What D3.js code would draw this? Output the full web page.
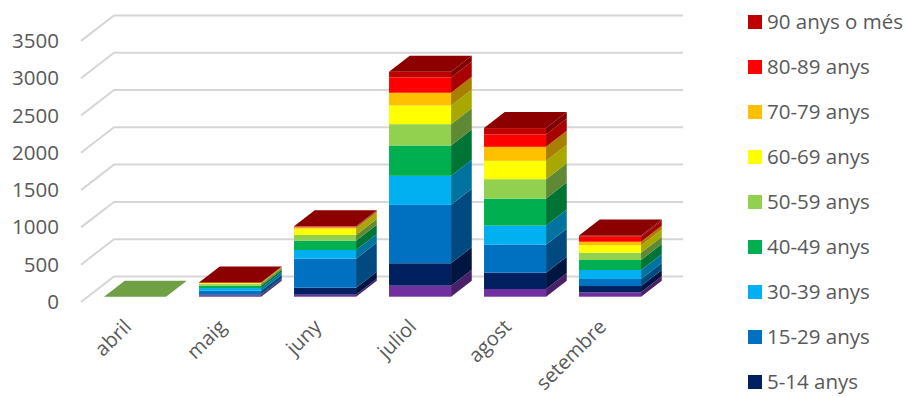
<!DOCTYPE html>
<html>
<head>
<meta charset="utf-8">
<script src="https://cdn.jsdelivr.net/npm/d3@7"></script>
<style>
  html, body { margin: 0; padding: 0; background: #fff; }
  text { font-family: "Open Sans", sans-serif; fill: #595959; }
</style>
</head>
<body>
<svg id="chart" width="908" height="396"></svg>
<script>
// Monthly cases by age group, stacked bottom to top
const months = ["abril", "maig", "juny", "juliol", "agost", "setembre"];
const ageGroups = ["0-4 anys", "5-14 anys", "15-29 anys", "30-39 anys", "40-49 anys",
                   "50-59 anys", "60-69 anys", "70-79 anys", "80-89 anys", "90 anys o més"];
const ageColors = ["#7030a0", "#002060", "#0070c0", "#00b0f0", "#00b050",
                   "#92d050", "#ffff00", "#ffc000", "#ff0000", "#c00000"];
const abril    = [0, 0, 0, 0, 0, 0, 0, 0, 0, 0];
const maig     = [18, 13, 49, 36, 31, 22, 13, 4, 4, 2];
const juny     = [27, 94, 389, 116, 125, 76, 85, 18, 9, 4];
const juliol   = [148, 300, 783, 389, 407, 286, 251, 170, 206, 76];
const agost    = [103, 219, 376, 255, 362, 260, 246, 188, 166, 85];
const setembre = [58, 85, 94, 121, 134, 98, 98, 49, 67, 18];
const monthValues = [abril, maig, juny, juliol, agost, setembre];
const roofColors = ["#70a044", "#8c0000", "#8c0000", "#8c0000", "#8c0000", "#8c0000"];
const yTicks = [0, 500, 1000, 1500, 2000, 2500, 3000, 3500];
const legendGroups = ageGroups.slice(1).reverse();

// Oblique projection of the plot box
const depthX = 33, depthY = 25.5;        // full floor depth
const barDepthX = 20.7, barDepthY = 16;  // depth of a bar
const wallLeft = 114, wallRight = 683;
const wallBase = 276.5, wallTop = 15.4;
const fontSize = "20.5px";

const svg = d3.select("#chart");
const y = d3.scaleLinear().domain([0, 3500]).range([wallBase, wallTop]);
const x = d3.scaleBand().domain(months)
  .range([wallLeft - depthX + 0.4, wallLeft - depthX + 570.4])
  .paddingInner(0.347).paddingOuter(0.1735);

// Back wall gridlines and their return along the side wall
const grid = svg.append("g");
grid.selectAll("path").data(yTicks).join("path")
  .attr("d", d => `M${wallLeft - depthX},${y(d) + depthY}L${wallLeft},${y(d)}L${wallRight},${y(d)}`)
  .attr("fill", "none").attr("stroke", "#d6d6d6").attr("stroke-width", 2);

// Value axis sits on the front edge of the side wall
const yAxis = svg.append("g")
  .attr("transform", `translate(${wallLeft - depthX},${depthY})`)
  .call(d3.axisLeft(y).tickValues(yTicks).tickSize(0).tickPadding(22).tickFormat(d3.format("d")));
yAxis.select(".domain").remove();
yAxis.selectAll("text").style("font-size", fontSize).style("font-family", '"Open Sans", sans-serif').attr("fill", "#595959");

// Bars: set slightly in from the front of the floor
const offX = (depthX - barDepthX) / 2, lift = 20.2;
const bars = svg.append("g");
months.forEach((m, i) => {
  const vals = monthValues[i];
  const x0 = x(m) + offX, x1 = x0 + x.bandwidth();
  let sum = 0;
  const g = bars.append("g");
  vals.forEach((v, k) => {
    const yb = y(sum) + lift, yt = y(sum + v) + lift;
    sum += v;
    if (v <= 0) return;
    const c = d3.rgb(ageColors[k]);
    const shade = d3.rgb(c.r * 0.66, c.g * 0.66, c.b * 0.66);
    g.append("rect").attr("x", x0).attr("y", yt).attr("width", x1 - x0).attr("height", yb - yt).attr("fill", ageColors[k]);
    g.append("path")
      .attr("d", `M${x1},${yb}L${x1},${yt}L${x1 + barDepthX},${yt - barDepthY}L${x1 + barDepthX},${yb - barDepthY}Z`)
      .attr("fill", shade);
  });
  const top = y(sum) + lift;
  g.append("path")
    .attr("d", `M${x0},${top}L${x1},${top}L${x1 + barDepthX},${top - barDepthY}L${x0 + barDepthX},${top - barDepthY}Z`)
    .attr("fill", roofColors[i]);
});

// Category labels, rotated and ending under each bar
svg.append("g").selectAll("text").data(months).join("text")
  .attr("text-anchor", "end")
  .attr("transform", m => `translate(${x(m) + x.bandwidth() / 2 + offX - 2.5},${328}) rotate(-45)`)
  .style("font-size", "20px")
  .text(d => d);

// Legend: cut off by the bottom of the frame after the ninth row
const legend = svg.append("g").selectAll("g").data(legendGroups).join("g")
  .attr("transform", (d, i) => `translate(748,${22 + i * 45})`);
legend.append("rect").attr("x", 0).attr("y", -7).attr("width", 14).attr("height", 14)
  .attr("fill", d => ageColors[ageGroups.indexOf(d)]);
legend.append("text").attr("x", 19).attr("y", 7).style("font-size", fontSize).text(d => d);
</script>
</body>
</html>
